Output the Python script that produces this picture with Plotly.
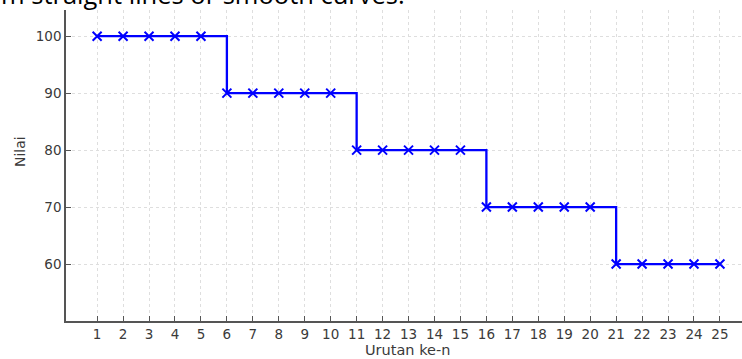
import plotly.graph_objects as go

urutan = list(range(1, 26))
nilai = [100]*5 + [90]*5 + [80]*5 + [70]*5 + [60]*5
x_ticks = list(range(1, 26))
y_ticks = [60, 70, 80, 90, 100]

fig = go.Figure()
fig.add_trace(go.Scatter(
    x=urutan, y=nilai, mode="lines+markers", line_shape="hv",
    line=dict(color="#0000ff", width=2.3),
    marker=dict(symbol="x-thin", size=9, color="#0000ff",
                line=dict(color="#0000ff", width=2.0)),
    showlegend=False,
))

axis_common = dict(
    showgrid=True, gridcolor="#dedede", griddash="3px,3px", gridwidth=0.8,
    showline=True, linecolor="#555555", linewidth=1.5,
    ticks="inside", ticklen=5, tickwidth=1, tickcolor="#555555",
    tickfont=dict(family="DejaVu Sans", size=13.5, color="#3a3a3a"),
    zeroline=False,
)

fig.update_layout(
    width=742, height=359,
    margin=dict(l=66, r=0, t=10, b=38),
    paper_bgcolor="white", plot_bgcolor="white",
    xaxis=dict(range=[-0.2, 25.85], tickvals=x_ticks, **axis_common),
    yaxis=dict(range=[50, 104.6], tickvals=y_ticks, **axis_common),
    annotations=[
        dict(text="Urutan ke-n", xref="paper", yref="paper", x=(407-66)/676, y=0,
             xanchor="center", yanchor="top", yshift=-19, showarrow=False,
             font=dict(family="DejaVu Sans", size=14.5, color="#3a3a3a")),
        dict(text="Nilai", xref="paper", yref="paper", x=0, y=(321-152)/311,
             xanchor="center", yanchor="middle", xshift=-46, textangle=-90, showarrow=False,
             font=dict(family="DejaVu Sans", size=14, color="#3a3a3a")),
        dict(text="m straight lines or smooth curves.", xref="paper", yref="paper",
             x=0, y=1, xanchor="left", yanchor="bottom", xshift=-67, yshift=-3,
             showarrow=False, font=dict(family="Open Sans", size=25.5, color="#000000")),
    ],
)

fig.write_html("out.html", config={"displayModeBar": False},
               post_script="document.body.style.margin='0';document.body.style.padding='0';")
